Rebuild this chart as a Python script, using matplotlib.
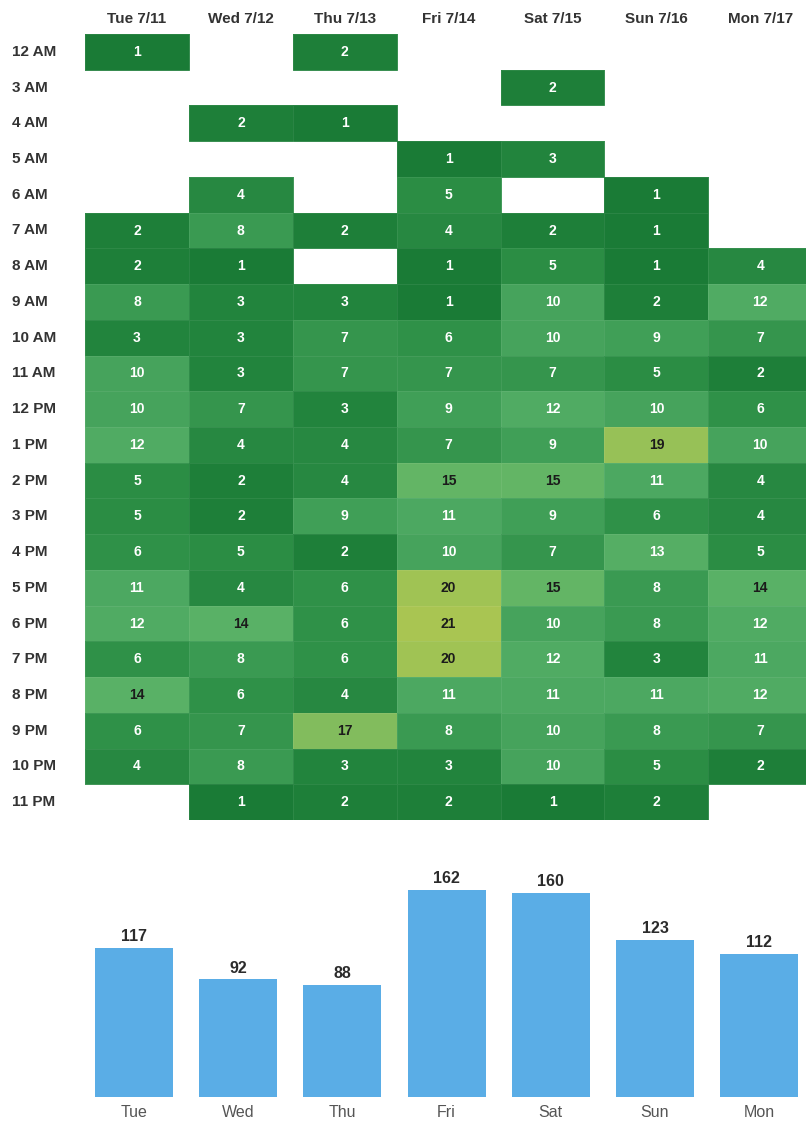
import matplotlib.pyplot as plt
from matplotlib.colors import LinearSegmentedColormap
import numpy as np

# hourly counts per day, None = no activity in that hour
days = ['Tue 7/11', 'Wed 7/12', 'Thu 7/13', 'Fri 7/14', 'Sat 7/15', 'Sun 7/16', 'Mon 7/17']
hours = ['12 AM', '3 AM', '4 AM', '5 AM', '6 AM', '7 AM', '8 AM', '9 AM', '10 AM', '11 AM',
         '12 PM', '1 PM', '2 PM', '3 PM', '4 PM', '5 PM', '6 PM', '7 PM', '8 PM', '9 PM',
         '10 PM', '11 PM']

tue = [1, None, None, None, None, 2, 2, 8, 3, 10, 10, 12, 5, 5, 6, 11, 12, 6, 14, 6, 4, None]
wed = [None, None, 2, None, 4, 8, 1, 3, 3, 3, 7, 4, 2, 2, 5, 4, 14, 8, 6, 7, 8, 1]
thu = [2, None, 1, None, None, 2, None, 3, 7, 7, 3, 4, 4, 9, 2, 6, 6, 6, 4, 17, 3, 2]
fri = [None, None, None, 1, 5, 4, 1, 1, 6, 7, 9, 7, 15, 11, 10, 20, 21, 20, 11, 8, 3, 2]
sat = [None, 2, None, 3, None, 2, 5, 10, 10, 7, 12, 9, 15, 9, 7, 15, 10, 12, 11, 10, 10, 1]
sun = [None, None, None, None, 1, 1, 1, 2, 9, 5, 10, 19, 11, 6, 13, 8, 8, 3, 11, 8, 5, 2]
mon = [None, None, None, None, None, None, 4, 12, 7, 2, 6, 10, 4, 4, 5, 14, 12, 11, 12, 7, 2, None]

# daily totals
short_days = ['Tue', 'Wed', 'Thu', 'Fri', 'Sat', 'Sun', 'Mon']
totals = [117, 92, 88, 162, 160, 123, 112]

W, H = 806, 1128
fig = plt.figure(figsize=(W / 100, H / 100), dpi=100)
plt.rcParams['font.family'] = ['Liberation Sans', 'DejaVu Sans']

cols = [tue, wed, thu, fri, sat, sun, mon]
grid = np.array([[np.nan if v is None else v for v in c] for c in cols], dtype=float).T
masked = np.ma.masked_invalid(grid)

greens = LinearSegmentedColormap.from_list(
    'greens', [(0.0, '#1a7b36'), (0.25, '#2f9148'), (0.5, '#4ca861'),
               (0.68, '#5cb367'), (0.82, '#88bd5b'), (1.0, '#a9c552')])

# heatmap panel
hx0, hx1 = 85, 806
hy0, hy1 = 34, 820
hm = fig.add_axes([hx0 / W, 1 - hy1 / H, (hx1 - hx0) / W, (hy1 - hy0) / H])
hm.pcolormesh(np.arange(len(days) + 1) - 0.5, np.arange(len(hours) + 1) - 0.5, masked,
              cmap=greens, vmin=1, vmax=21, edgecolors=(1, 1, 1, 0.07), linewidth=0.6)
hm.set_xlim(-0.5, 6.44)
hm.set_ylim(len(hours) - 0.5, -0.5)
for s in hm.spines.values():
    s.set_visible(False)
hm.set_xticks([])
hm.set_yticks([])

for i in range(len(hours)):
    for j in range(len(days)):
        v = grid[i, j]
        if np.isnan(v):
            continue
        color = '#1b1b1b' if v >= 14 else 'white'
        hm.text(j, i, str(int(v)), ha='center', va='center', fontsize=10,
                fontweight='bold', color=color)

# day headers and hour labels
for j, d in enumerate(days):
    hm.text(j, -0.5 - 0.42, d, ha='center', va='center', fontsize=11,
            fontweight='bold', color='#333333', clip_on=False)
for i, h in enumerate(hours):
    fig.text(12 / W, 1 - (hy0 + (i + 0.5) * (hy1 - hy0) / len(hours)) / H, h,
             ha='left', va='center', fontsize=11, fontweight='bold', color='#333333')

# daily totals bar chart
bx0, bx1 = 82, 806
by0, by1 = 860, 1097
bars = fig.add_axes([bx0 / W, 1 - by1 / H, (bx1 - bx0) / W, (by1 - by0) / H])
x = np.arange(len(short_days))
bars.bar(x, totals, width=0.75, color='#5aade6')
bars.set_xlim(-0.5, 6.45)
bars.set_ylim(0, 185.5)
for s in bars.spines.values():
    s.set_visible(False)
bars.set_yticks([])
bars.set_xticks(x)
bars.set_xticklabels(short_days, fontsize=11.5, color='#555555')
bars.tick_params(axis='x', length=0, pad=6)
for xi, t in zip(x, totals):
    bars.text(xi, t + 3, str(t), ha='center', va='bottom', fontsize=11.5,
              fontweight='semibold', color='#2b2b2b')

plt.savefig('out.png', dpi=100)
